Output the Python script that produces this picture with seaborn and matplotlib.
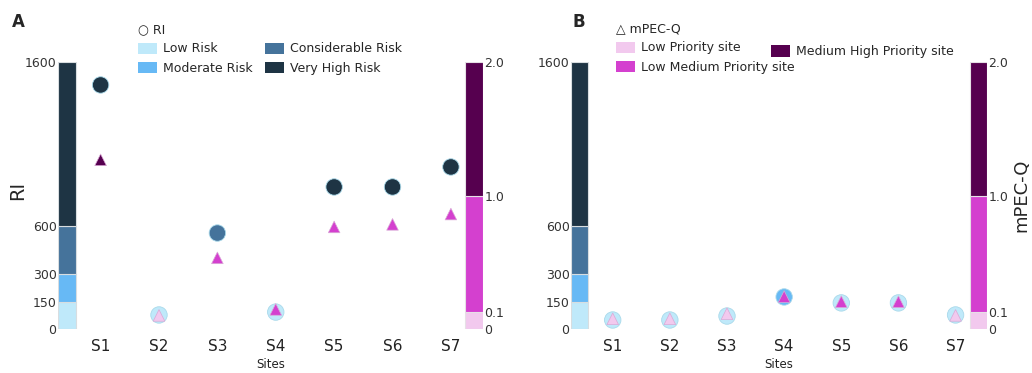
import numpy as np
import pandas as pd
import seaborn as sns
import matplotlib.pyplot as plt
from matplotlib.patches import Patch

sites = ['S1', 'S2', 'S3', 'S4', 'S5', 'S6', 'S7']

# panel A
ri_a = [1460, 78, 556, 94, 838, 838, 960]
mpecq_a = [1.27, 0.08, 0.52, 0.12, 0.76, 0.78, 0.86]
# panel B
ri_b = [50, 50, 72, 177, 145, 145, 78]
mpecq_b = [0.06, 0.06, 0.09, 0.22, 0.18, 0.18, 0.08]

risk_edges = [0, 150, 300, 600, 1600]
risk_labels = ['Low Risk', 'Moderate Risk', 'Considerable Risk', 'Very High Risk']
risk_colors = ['#bfe9fa', '#67b9f5', '#45739b', '#1e3444']

prio_edges = [0, 0.1, 1.0, 2.0]
prio_labels = ['Low Priority site', 'Low Medium Priority site', 'Medium High Priority site']
prio_colors = ['#f2c9ee', '#d440cf', '#56004f']

# piecewise axis stretch (relative pixel heights of each band)
ri_px = [0, 27, 55, 103, 267]
q_px = [0, 17, 133, 267]


def ri_fwd(v):
    return np.interp(v, risk_edges, ri_px)


def ri_inv(p):
    return np.interp(p, ri_px, risk_edges)


def q_fwd(v):
    return np.interp(v, prio_edges, q_px)


def q_inv(p):
    return np.interp(p, q_px, prio_edges)


sns.set_style('white')
plt.rcParams['font.family'] = ['DejaVu Sans']

W, H = 1032, 373
fig = plt.figure(figsize=(W / 100, H / 100), dpi=100)

LEFT_BAR = 0.42
RIGHT_BAR = 7.4
BAR_W = 0.3


def draw_panel(rect, ri, q, q_label):
    ax = fig.add_axes(rect)
    ax2 = ax.twinx()
    df = pd.DataFrame({'x': np.arange(1, len(sites) + 1), 'ri': ri, 'q': q})
    df['risk'] = pd.cut(df['ri'], bins=risk_edges, labels=risk_labels, right=False).astype(str)
    df['prio'] = pd.cut(df['q'], bins=prio_edges, labels=prio_labels, right=False).astype(str)

    ax.set_yscale('function', functions=(ri_fwd, ri_inv))
    ax2.set_yscale('function', functions=(q_fwd, q_inv))

    # RI band bar
    ax.bar([LEFT_BAR] * 4, np.diff(risk_edges), bottom=risk_edges[:-1], width=BAR_W,
           color=risk_colors, edgecolor='#d8dde0', linewidth=0.8)
    # mPEC-Q band bar
    ax2.bar([RIGHT_BAR] * 3, np.diff(prio_edges), bottom=prio_edges[:-1], width=BAR_W,
            color=prio_colors, edgecolor='#e6e0e6', linewidth=0.8)

    sns.scatterplot(data=df, x='x', y='ri', hue='risk', hue_order=risk_labels,
                    palette=dict(zip(risk_labels, risk_colors)), s=140, ax=ax,
                    legend=False, edgecolor='#a9d9ea', linewidth=0.6)
    sns.scatterplot(data=df, x='x', y='q', hue='prio', hue_order=prio_labels,
                    palette=dict(zip(prio_labels, prio_colors)), s=70, marker='^', ax=ax2,
                    legend=False, edgecolor='#d9a9d6', linewidth=0.5)

    ax.set_xlim(LEFT_BAR - BAR_W / 2, RIGHT_BAR + BAR_W / 2)
    ax.set_ylim(0, 1600)
    ax2.set_ylim(0, 2.0)

    ax.set_xticks(df['x'])
    ax.set_xticklabels(sites, fontsize=11, color='#222222')
    ax.set_yticks(risk_edges)
    ax.set_yticklabels([str(v) for v in risk_edges], fontsize=9, color='#333333')
    ax2.set_yticks(prio_edges)
    ax2.set_yticklabels(['0', '0.1', '1.0', '2.0'], fontsize=9, color='#333333')
    ax.tick_params(axis='x', length=0, pad=7)
    ax.tick_params(axis='y', length=0, pad=1)
    ax2.tick_params(axis='y', length=0, pad=1)
    for a in (ax, ax2):
        for sp in a.spines.values():
            sp.set_visible(False)

    ax.set_xlabel('Sites', fontsize=8.5, labelpad=3, color='#222222')
    ax.set_ylabel('')
    ax2.set_ylabel(q_label, fontsize=13, labelpad=3)
    return ax, ax2


axA, axA2 = draw_panel([58 / W, 44 / H, 425 / W, 267 / H], ri_a, mpecq_a, '')
axB, axB2 = draw_panel([571 / W, 44 / H, 416 / W, 267 / H], ri_b, mpecq_b, 'mPEC-Q')

fig.text(18 / W, 1 - 190 / H, 'RI', fontsize=14, rotation=90, ha='center', va='center')
fig.text(12 / W, 1 - 22 / H, 'A', fontsize=12, fontweight='bold', va='center')
fig.text(572 / W, 1 - 22 / H, 'B', fontsize=12, fontweight='bold', va='center')

leg_kw = dict(frameon=False, loc='upper left', fontsize=9, title_fontsize=9,
              alignment='left', borderpad=0, handlelength=1.5, handleheight=1.0,
              handletextpad=0.5, labelspacing=0.5)

risk_handles = [Patch(facecolor=c, edgecolor='none') for c in risk_colors]
fig.legend(risk_handles, risk_labels, title='○ RI', ncol=2, columnspacing=1.0,
           bbox_to_anchor=(132 / W, 1 - 17 / H), **leg_kw)

prio_handles = [Patch(facecolor=c, edgecolor='none') for c in prio_colors]
fig.legend(prio_handles[:2], prio_labels[:2], title='△ mPEC-Q',
           bbox_to_anchor=(610 / W, 1 - 16 / H), **leg_kw)
fig.legend(prio_handles[2:], prio_labels[2:],
           bbox_to_anchor=(765 / W, 1 - 39 / H), **leg_kw)

fig.savefig('out.png', dpi=100)
